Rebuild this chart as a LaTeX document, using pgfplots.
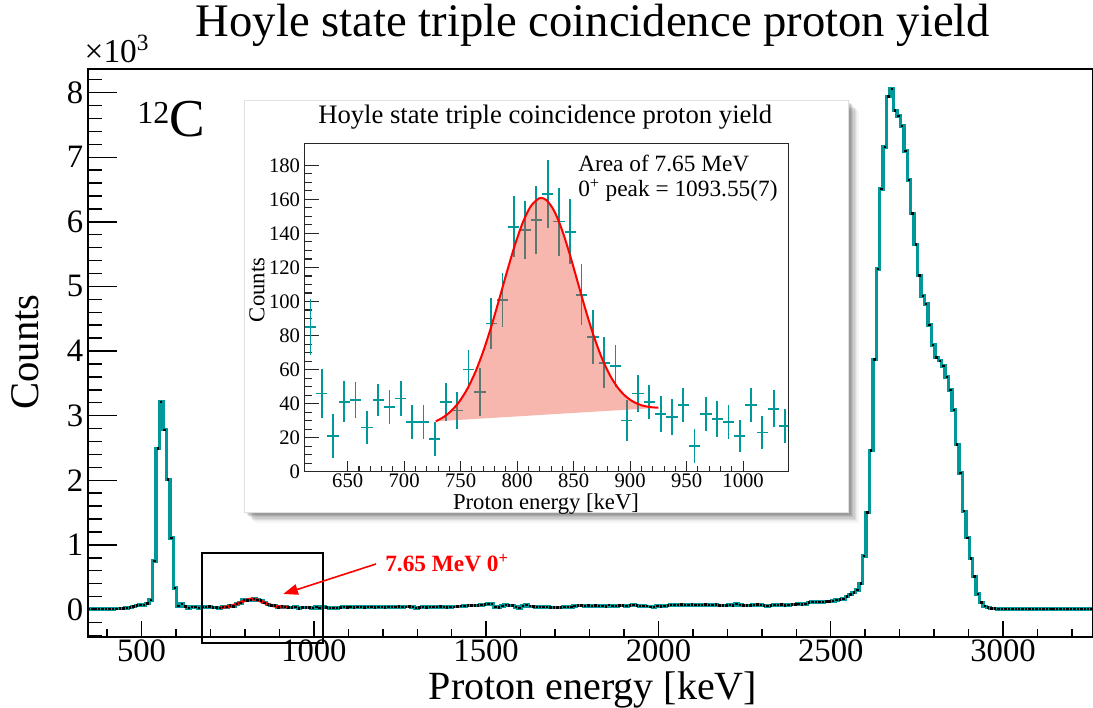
\documentclass[border=0pt]{standalone}
\usepackage{fontspec}
\setmainfont{Liberation Serif}
\usepackage{pgfplots}
\usepackage{pgfplotstable}
\pgfplotsset{compat=1.18}
\usetikzlibrary{arrows.meta}
\definecolor{histc}{RGB}{0,152,152}
\definecolor{fitfill}{RGB}{237,73,54}

\pgfplotstableread{
x y
347 6
357 8
367 5
377 9
387 7
397 8
407 10
417 8
427 11
437 12
447 15
457 25
467 32
477 45
487 58
497 68
507 72
517 90
527 150
537 747
547 2495
557 3215
567 2782
577 2009
587 1108
597 335
607 55
617 85
627 46
637 21
647 41
657 42
667 26
677 42
687 38
697 43
707 29
717 29
727 19
737 41
747 36
757 60
767 47
777 87
787 101
797 144
807 142
817 148
827 163
837 147
847 141
857 104
867 79
877 64
887 62
897 30
907 46
917 41
927 34
937 32
947 39
957 15
967 34
977 31
987 29
997 21
1007 39
1017 23
1027 37
1037 27
1047 22
1057 25
1067 20
1077 28
1087 35
1097 30
1107 38
1117 33
1127 36
1137 40
1147 32
1157 35
1167 38
1177 30
1187 36
1197 40
1207 34
1217 38
1227 42
1237 40
1247 45
1257 38
1267 42
1277 44
1287 40
1297 25
1307 30
1317 35
1327 32
1337 40
1347 42
1357 38
1367 44
1377 40
1387 30
1397 36
1407 42
1417 48
1427 50
1437 55
1447 58
1457 60
1467 62
1477 58
1487 68
1497 75
1507 85
1517 82
1527 40
1537 30
1547 55
1557 70
1567 60
1577 62
1587 35
1597 20
1607 55
1617 72
1627 50
1637 45
1647 40
1657 38
1667 42
1677 35
1687 30
1697 28
1707 32
1717 30
1727 35
1737 40
1747 38
1757 55
1767 60
1777 58
1787 55
1797 62
1807 50
1817 58
1827 52
1837 55
1847 48
1857 65
1867 55
1877 50
1887 58
1897 62
1907 55
1917 60
1927 68
1937 58
1947 52
1957 55
1967 50
1977 42
1987 38
1997 52
2007 48
2017 55
2027 62
2037 70
2047 72
2057 68
2067 75
2077 70
2087 72
2097 76
2107 70
2117 65
2127 72
2137 78
2147 70
2157 68
2167 75
2177 60
2187 58
2197 62
2207 70
2217 62
2227 85
2237 70
2247 60
2257 62
2267 58
2277 72
2287 76
2297 70
2307 60
2317 55
2327 62
2337 70
2347 72
2357 75
2367 62
2377 68
2387 74
2397 80
2407 82
2417 78
2427 84
2437 110
2447 118
2457 115
2467 118
2477 116
2487 120
2497 125
2507 130
2517 150
2527 155
2537 160
2547 200
2557 230
2567 260
2577 300
2587 400
2597 830
2607 1500
2617 2460
2627 3870
2637 5270
2647 6510
2657 7160
2667 7940
2677 8060
2687 7720
2697 7640
2707 7480
2717 7100
2727 6650
2737 6130
2747 5650
2757 5170
2767 4850
2777 4730
2787 4400
2797 4090
2807 3900
2817 3850
2827 3770
2837 3600
2847 3400
2857 3090
2867 2550
2877 2110
2887 1520
2897 1110
2907 790
2917 510
2927 240
2937 105
2947 50
2957 30
2967 18
2977 12
2987 10
2997 8
3007 9
3017 7
3027 10
3037 8
3047 6
3057 9
3067 8
3077 7
3087 10
3097 9
3107 8
3117 7
3127 9
3137 8
3147 10
3157 8
3167 7
3177 9
3187 8
3197 6
3207 8
3217 9
3227 7
3237 8
3247 9
3257 8
}\mainhist

\pgfplotstableread{
x y e
617 85 16.6
627 46 14.5
637 21 13
647 41 12
657 42 10.6
667 26 9.8
677 42 9.5
687 38 10
697 43 10
707 29 10
717 29 10
727 19 10
737 41 11
747 36 11
757 60 11.5
767 47 14
777 87 15
787 101 16
797 144 18
807 142 17
817 148 20
827 163 20
837 147 20
847 141 19
857 104 18
867 79 16
877 64 15
887 62 12.5
897 30 12
907 46 11
917 41 10
927 34 10.5
937 32 10.5
947 39 10
957 15 10
967 34 10
977 31 10.5
987 29 10
997 21 9.5
1007 39 10
1017 23 9.5
1027 37 11
1037 27 10
}\insetpts

\pgfplotstableread{
x y
728 29.57
735 32.15
742 35.94
749 41.35
756 48.80
763 58.56
770 70.74
777 85.11
784 101.06
791 117.54
798 133.18
805 146.45
812 155.94
819 160.53
821 160.85
826 159.59
833 152.95
840 141.51
847 126.74
854 110.42
861 94.16
868 79.32
875 66.74
882 56.79
889 49.40
896 44.31
903 41.01
910 39.05
917 38.02
925 37.55
}\fitcurve

\begin{document}
\begin{tikzpicture}
\useasboundingbox (-65.85pt,-53.475pt) rectangle (753.9pt,477.5pt);
\begin{axis}[
  scale only axis, width=753.9pt, height=425.8pt,
  at={(0pt,0pt)}, anchor=south west,
  xmin=344, xmax=3261, ymin=-421, ymax=8367,
  xtick={500,1000,...,3000}, minor xtick={400,500,...,3200},
  ytick={0,1000,...,8000}, yticklabels={0,1,2,3,4,5,6,7,8},
  minor ytick={-400,-200,...,8200},
  xtick pos=bottom, ytick pos=left, tick align=inside,
  scaled x ticks=false, scaled y ticks=false,
  /pgf/number format/assume math mode=true,
  /pgf/number format/1000 sep={},
  tick label style={font=\fontsize{24.5}{27}\selectfont},
  xticklabel style={yshift=1.5pt},
  axis line style={line width=1.5pt},
  every tick/.style={black, line width=1.1pt},
  xtick style={/pgfplots/major tick length=12pt, /pgfplots/minor tick length=6pt},
  ytick style={/pgfplots/major tick length=21.75pt, /pgfplots/minor tick length=10.5pt},
]
\addplot[histc, line width=2.6pt, const plot mark mid, mark=square*, mark size=0.55pt,
  mark options={black, line width=0pt}] table[x=x,y=y] {\mainhist};
\addplot[red, line width=2.2pt, smooth] table[x=x,y=y] {\fitcurve};
\end{axis}

% zoom box and arrow
\draw[black, line width=1.5pt] (85.4pt,-4.95pt) rectangle (176.2pt,62.55pt);
\draw[red, line width=1.2pt, -{Triangle[length=11pt,width=8pt]}] (216.15pt,54.5pt) -- (146.6pt,32.0pt);
\node[anchor=base west, text=red, inner sep=0pt] at (222.9pt,48.7pt)
  {\fontsize{17.5}{20}\selectfont\bfseries 7.65 MeV 0\textsuperscript{+}};

% texts of main
\node[inner sep=0pt] at (378.9pt,458.8pt) {\fontsize{35}{38}\selectfont Hoyle state triple coincidence proton yield};
\node[inner sep=0pt] at (378.9pt,-40pt) {\fontsize{30}{33}\selectfont Proton energy [keV]};
\node[inner sep=0pt, rotate=90] at (-47.1pt,213.5pt) {\fontsize{30.5}{33}\selectfont Counts};
\node[anchor=base west, inner sep=0pt] at (-2.5pt,430.3pt) {\fontsize{25}{28}\selectfont ×10\textsuperscript{3}};
\node[anchor=base west, inner sep=0pt] at (36.9pt,374.8pt)
  {\raisebox{10.3pt}{\fontsize{24}{26}\selectfont 12}\fontsize{40}{42}\selectfont C};

% inset frame with soft shadow
\foreach \s/\o in {8/0.04,7/0.05,6/0.06,5/0.07,4/0.08,3/0.09,2/0.1}{
  \fill[black, opacity=\o] (117.15pt+\s pt,93.5pt-\s pt) rectangle (570.15pt+\s pt,402.5pt-\s pt);
}
\fill[white] (117.15pt,93.5pt) rectangle (570.15pt,402.5pt);
\draw[black!12, line width=0.5pt] (117.15pt,93.5pt) rectangle (570.15pt,402.5pt);

\begin{axis}[
  scale only axis, width=362.7pt, height=246.3pt,
  at={(162.7pt,123.75pt)}, anchor=south west,
  xmin=612, xmax=1040, ymin=0, ymax=193,
  xtick={650,700,...,1000}, minor x tick num=4,
  ytick={0,20,...,180}, minor y tick num=3,
  xtick pos=bottom, ytick pos=left, tick align=inside,
  scaled x ticks=false, scaled y ticks=false,
  /pgf/number format/assume math mode=true,
  /pgf/number format/1000 sep={},
  tick label style={font=\fontsize{15.5}{17}\selectfont},
  xticklabel style={yshift=2pt},
  axis line style={line width=0.8pt, black!85},
  every tick/.style={black!85, line width=0.8pt},
  xtick style={/pgfplots/major tick length=8pt, /pgfplots/minor tick length=4pt},
  ytick style={/pgfplots/major tick length=11pt, /pgfplots/minor tick length=5.5pt},
]
\addplot[draw=none, mark=none,
  error bars/.cd, x dir=both, x fixed=5, y dir=both, y explicit, error mark=none,
  error bar style={draw=histc, solid, line width=1.3pt}] table[x=x,y=y,y error=e] {\insetpts};
\addplot[draw=none, fill=fitfill, fill opacity=0.4] table[x=x,y=y] {\fitcurve} -- cycle;
\addplot[red, line width=1.5pt, smooth] table[x=x,y=y] {\fitcurve};
\end{axis}
\node[inner sep=0pt] at (343.1pt,389.8pt) {\fontsize{20}{22}\selectfont Hoyle state triple coincidence proton yield};
\node[inner sep=0pt] at (343.65pt,99.8pt) {\fontsize{17}{19}\selectfont Proton energy [keV]};
\node[inner sep=0pt, rotate=90] at (126.9pt,260pt) {\fontsize{17}{19}\selectfont Counts};
\node[anchor=base west, inner sep=0pt] at (367.65pt,348.5pt) {\fontsize{17.5}{20}\selectfont Area of 7.65 MeV};
\node[anchor=base west, inner sep=0pt] at (367.65pt,330pt) {\fontsize{17.5}{20}\selectfont 0\textsuperscript{+} peak = 1093.55(7)};
\end{tikzpicture}
\end{document}
